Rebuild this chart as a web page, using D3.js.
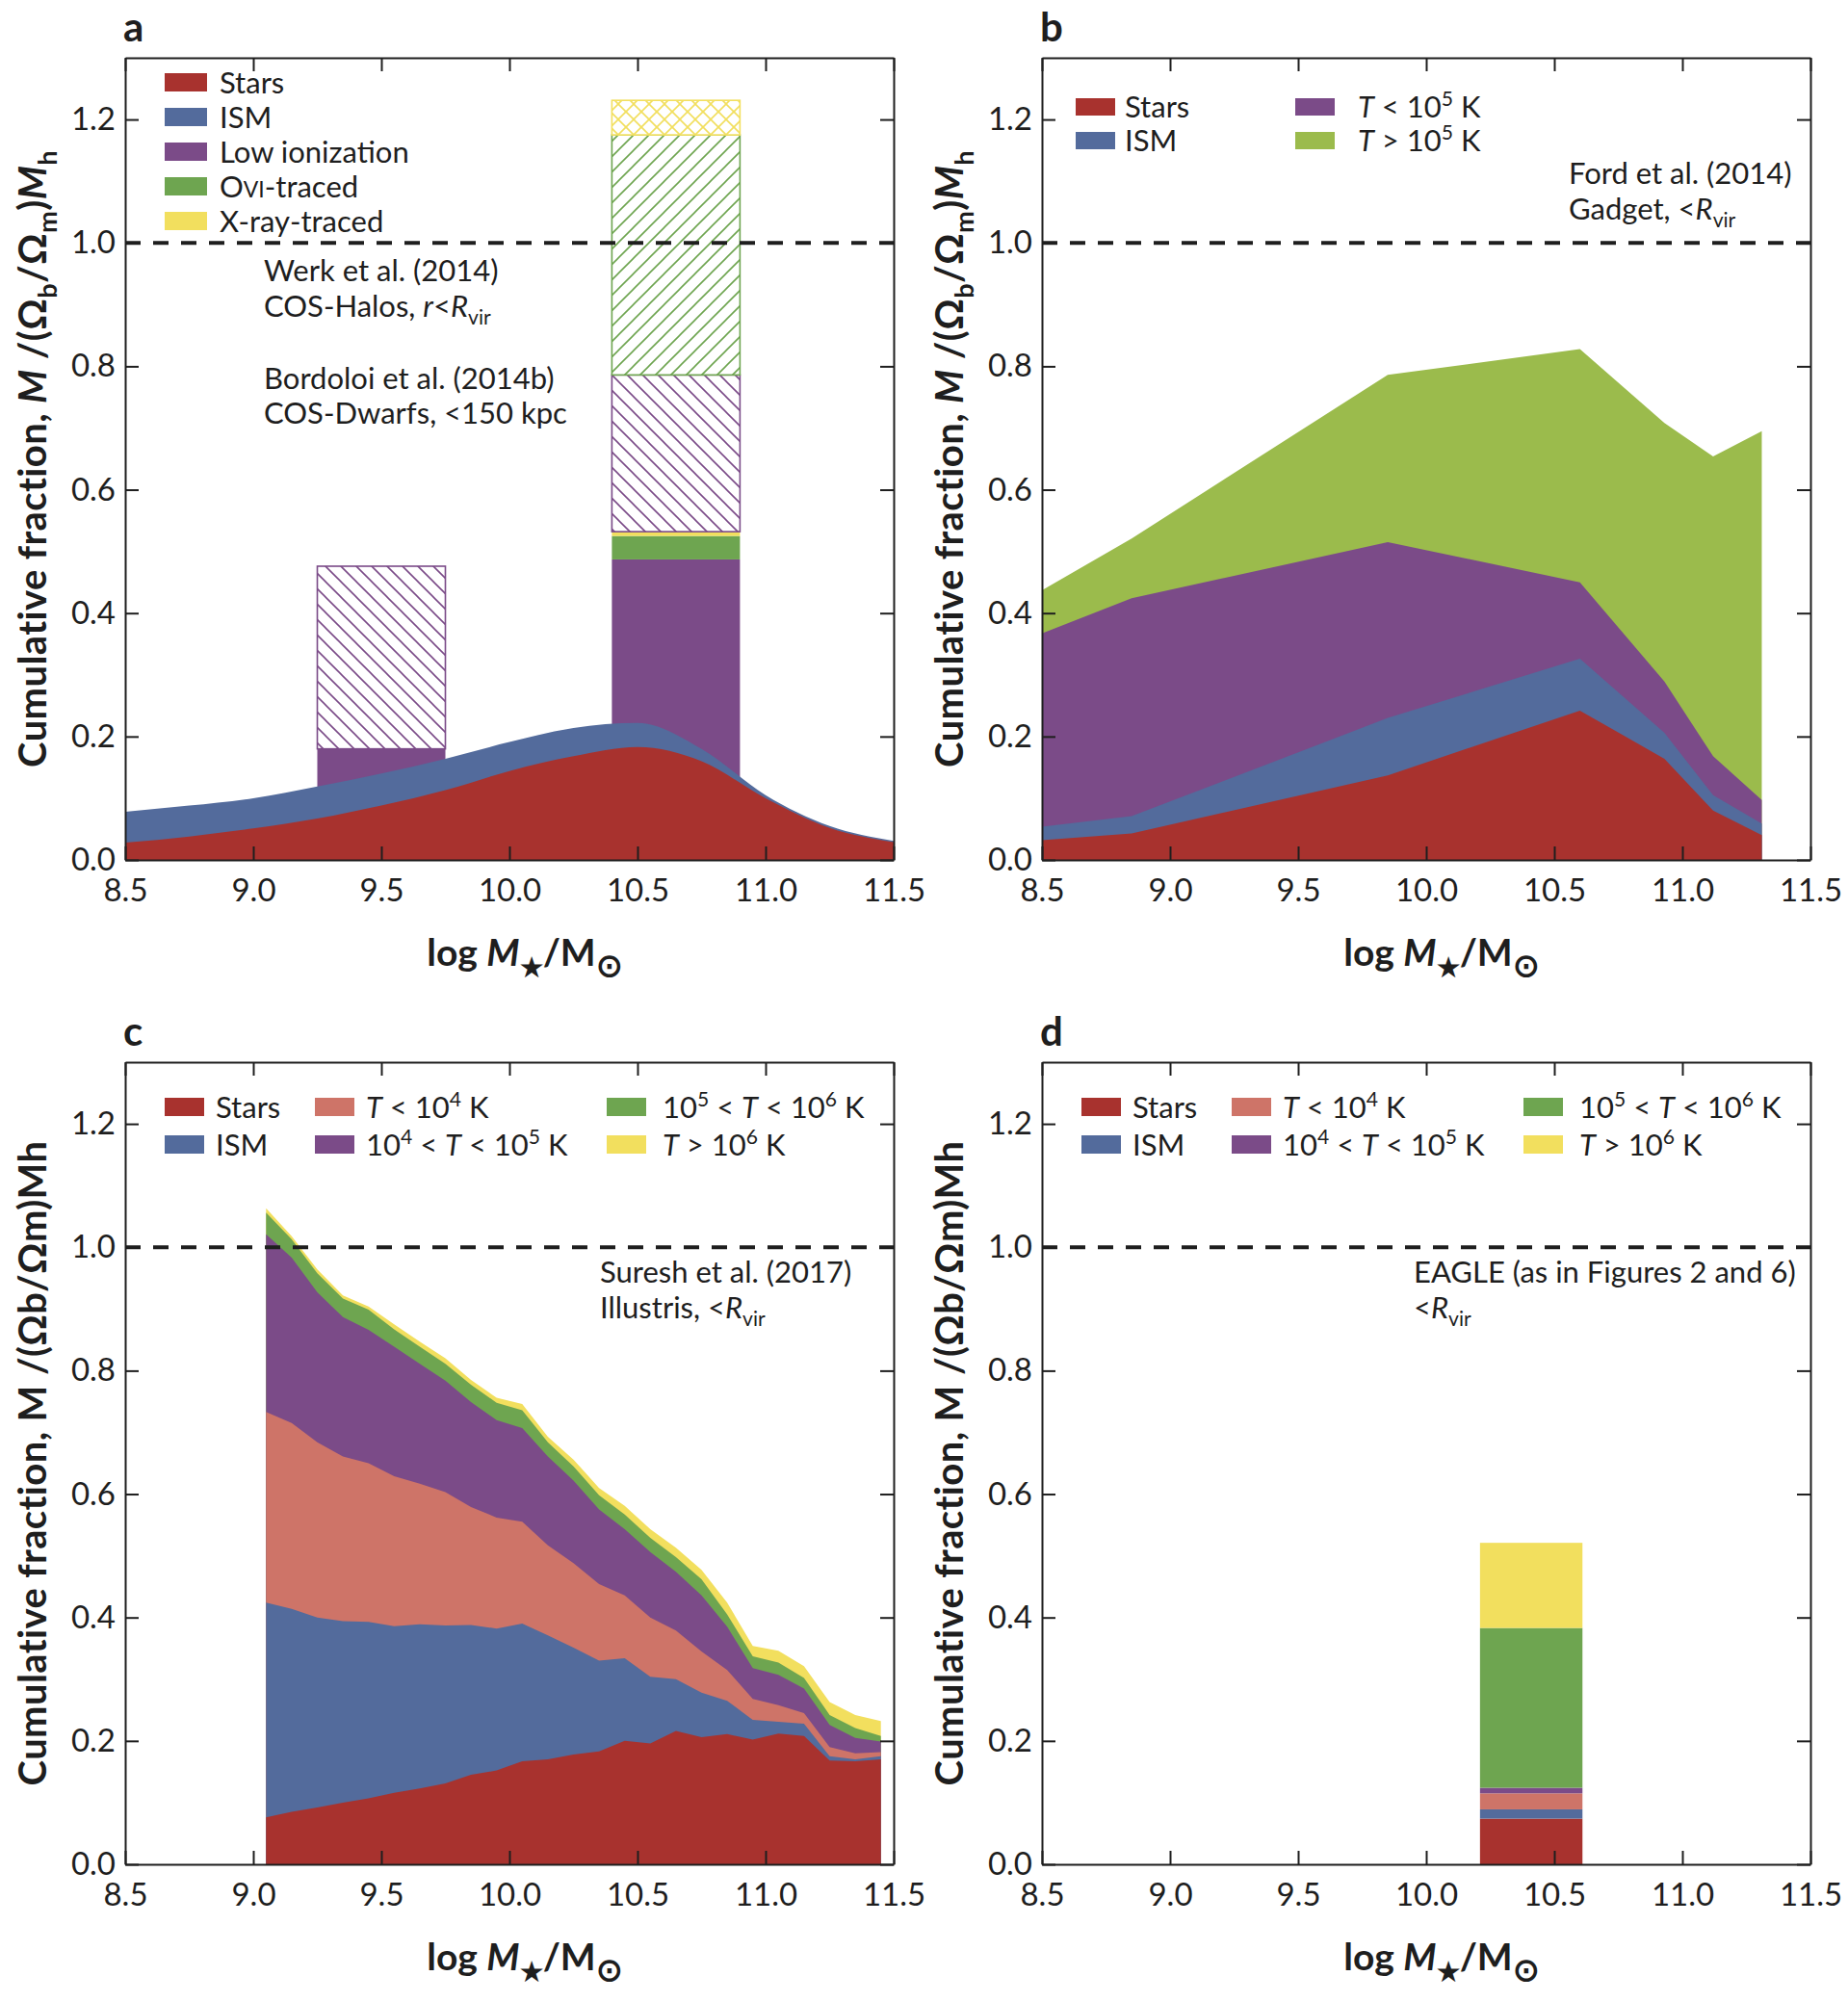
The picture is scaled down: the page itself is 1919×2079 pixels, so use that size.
<!DOCTYPE html>
<html>
<head>
<meta charset="utf-8">
<script src="https://cdn.jsdelivr.net/npm/d3@7"></script>
<style>
  body { margin: 0; background: #fff; }
  svg { display: block; }
</style>
</head>
<body>
<div id="chart"></div>
<script>
// ---------- data ----------
const massTicks = [8.5, 9.0, 9.5, 10.0, 10.5, 11.0, 11.5];
const fracTicks = [0, 0.2, 0.4, 0.6, 0.8, 1.0, 1.2];

// a: Werk et al. 2014 / Bordoloi et al. 2014b
const aMass = [8.5, 8.75, 9.0, 9.25, 9.5, 9.75, 10.0, 10.25, 10.5, 10.75, 11.0, 11.25, 11.5];
const aStars = [0.028, 0.038, 0.051, 0.067, 0.088, 0.113, 0.144, 0.168, 0.183, 0.160, 0.100, 0.052, 0.029];
const aISM = [0.078, 0.088, 0.100, 0.119, 0.140, 0.164, 0.191, 0.214, 0.222, 0.180, 0.105, 0.055, 0.031];
const dwarfBin = [9.25, 9.75];
const dwarfTops = [0.18, 0.476];
const dwarfKind = ['low', 'low'];
const dwarfHatched = [false, true];
const haloBin = [10.4, 10.9];
const haloTops = [0.487, 0.525, 0.532, 0.786, 1.175, 1.231];
const haloKind = ['low', 'ovi', 'xray', 'low', 'ovi', 'xray'];
const haloHatched = [false, false, false, true, true, true];

// b: Ford et al. 2014 (cumulative tops)
const bMass = [8.5, 8.85, 9.85, 10.6, 10.93, 11.12, 11.31];
const bStars = [0.032, 0.043, 0.137, 0.242, 0.164, 0.080, 0.040];
const bISM = [0.054, 0.071, 0.230, 0.326, 0.206, 0.105, 0.059];
const bCool = [0.367, 0.424, 0.515, 0.450, 0.289, 0.168, 0.097];
const bHot = [0.437, 0.521, 0.786, 0.828, 0.708, 0.654, 0.695];

// c: Suresh et al. 2017 (cumulative tops)
const cMass = [9.05, 9.15, 9.25, 9.35, 9.45, 9.55, 9.65, 9.75, 9.85, 9.95, 10.05, 10.15, 10.25,
  10.35, 10.45, 10.55, 10.65, 10.75, 10.85, 10.95, 11.05, 11.15, 11.25, 11.35, 11.45];
const cStars = [0.076, 0.085, 0.092, 0.100, 0.107, 0.116, 0.123, 0.131, 0.145, 0.152, 0.167, 0.170, 0.178,
  0.183, 0.200, 0.196, 0.216, 0.206, 0.211, 0.202, 0.212, 0.208, 0.168, 0.167, 0.170];
const cISM = [0.424, 0.414, 0.400, 0.394, 0.393, 0.386, 0.389, 0.387, 0.388, 0.382, 0.390, 0.371, 0.351,
  0.330, 0.334, 0.304, 0.300, 0.278, 0.265, 0.234, 0.231, 0.228, 0.175, 0.170, 0.175];
const cT4 = [0.733, 0.715, 0.684, 0.661, 0.650, 0.629, 0.617, 0.603, 0.579, 0.562, 0.555, 0.517, 0.488,
  0.454, 0.436, 0.400, 0.379, 0.345, 0.315, 0.268, 0.258, 0.245, 0.190, 0.180, 0.182];
const cT5 = [1.021, 0.983, 0.927, 0.887, 0.866, 0.839, 0.811, 0.784, 0.749, 0.720, 0.707, 0.661, 0.622,
  0.575, 0.543, 0.506, 0.474, 0.436, 0.385, 0.318, 0.307, 0.285, 0.226, 0.205, 0.199];
const cT6 = [1.056, 1.013, 0.958, 0.917, 0.899, 0.867, 0.839, 0.811, 0.777, 0.748, 0.736, 0.684, 0.645,
  0.598, 0.567, 0.529, 0.498, 0.462, 0.405, 0.337, 0.327, 0.302, 0.242, 0.221, 0.208];
const cHot = [1.063, 1.018, 0.964, 0.922, 0.904, 0.875, 0.847, 0.820, 0.785, 0.756, 0.746, 0.693, 0.656,
  0.610, 0.581, 0.543, 0.513, 0.477, 0.424, 0.354, 0.346, 0.321, 0.263, 0.242, 0.232];

// d: EAGLE single bin (cumulative tops: stars, ISM, T<1e4, 1e4-1e5, 1e5-1e6, >1e6)
const dBin = [10.21, 10.61];
const dTops = [0.074, 0.089, 0.115, 0.124, 0.383, 0.521];

// ---------- look ----------
const col = {
  stars: '#a8322e', ism: '#536b9c', low: '#7b4b88', ovi: '#6ea550', xray: '#f2df5e',
  t4: '#ce7468', hotB: '#9bbb4c', ink: '#1e1e1e'
};
const FONT = 'Lato, "Open Sans", sans-serif';
const W = 798, H = 833;

const svg = d3.select('#chart').append('svg')
  .attr('width', 1919).attr('height', 2079)
  .attr('font-family', FONT).attr('fill', col.ink);

const x = d3.scaleLinear().domain([8.5, 11.5]).range([0, W]);
const y = d3.scaleLinear().domain([0, 1.3]).range([H, 0]);

// hatch patterns
const defs = svg.append('defs');
function hatch(id, color, dirs) {
  const p = defs.append('pattern').attr('id', id)
    .attr('patternUnits', 'userSpaceOnUse').attr('width', 16).attr('height', 16);
  p.append('rect').attr('width', 16).attr('height', 16).attr('fill', '#fff');
  if (dirs.includes('\\'))
    p.append('path').attr('d', 'M-4,-4L20,20M-4,12L4,20M12,-4L20,4')
      .attr('stroke', color).attr('stroke-width', 1.6);
  if (dirs.includes('/'))
    p.append('path').attr('d', 'M-4,20L20,-4M-4,4L4,-4M12,20L20,12')
      .attr('stroke', color).attr('stroke-width', 1.6);
}
hatch('h-low', col.low, '\\');
hatch('h-ovi', col.ovi, '/');
hatch('h-xray', col.xray, '/\\');

// text with italics / sub / superscripts
function rich(sel, parts, fs) {
  let shift = 0;
  parts.forEach(p => {
    const target = p.sup ? -0.38 * fs : p.sub ? 0.27 * fs : 0;
    const t = sel.append('tspan').text(p.t).attr('dy', target - shift);
    shift = target;
    if (p.sup || p.sub) t.attr('font-size', (p.big ? 0.85 : 0.68) * fs);
    if (p.sc) t.attr('font-size', 0.74 * fs);
    if (p.i) t.attr('font-style', 'italic');
  });
}

function panel(left, top) {
  return svg.append('g').attr('transform', `translate(${left},${top})`);
}

// stacked bands given cumulative tops; drawn largest first from 0 to avoid seams
function bands(g, mass, tops, colors, curve) {
  const area = d3.area()
    .x((d, i) => x(mass[i]))
    .y0(y(0))
    .y1(d => y(d))
    .curve(curve || d3.curveLinear);
  for (let k = tops.length - 1; k >= 0; k--) {
    g.append('path').datum(tops[k]).attr('d', area).attr('fill', colors[k]);
  }
}

function legend(g, items, cols, rows, sw, sh, fs) {
  items.forEach((it, k) => {
    const c = Math.floor(k / rows.length), r = k % rows.length;
    g.append('rect').attr('x', cols[c].sx).attr('y', rows[r])
      .attr('width', sw).attr('height', sh).attr('fill', it.color);
    const t = g.append('text').attr('x', cols[c].tx).attr('y', rows[r] + sh / 2 + 0.36 * fs)
      .attr('font-size', fs);
    rich(t, it.label, fs);
  });
}

function note(g, tx, lines, fs) {
  lines.forEach(l => {
    const t = g.append('text').attr('x', tx).attr('y', l.y).attr('font-size', fs);
    rich(t, l.parts, fs);
  });
}

function frame(g, letter, ytitle) {
  // reference line
  g.append('line').attr('x1', x(8.5)).attr('x2', x(11.5)).attr('y1', y(1)).attr('y2', y(1))
    .attr('stroke', col.ink).attr('stroke-width', 4).attr('stroke-dasharray', '16,13');

  const style = a => {
    a.attr('font-family', FONT).attr('font-size', 33);
    a.selectAll('line').attr('stroke', col.ink).attr('stroke-width', 2);
    a.selectAll('path').attr('stroke', col.ink).attr('stroke-width', 2);
    a.selectAll('text').attr('fill', col.ink);
  };
  g.append('g').attr('transform', `translate(0,${H})`)
    .call(d3.axisBottom(x).tickValues(massTicks).tickSize(-14).tickSizeOuter(0)
      .tickPadding(20).tickFormat(d3.format('.1f'))).call(style);
  g.append('g')
    .call(d3.axisTop(x).tickValues(massTicks).tickSize(-14).tickSizeOuter(0).tickFormat('')).call(style);
  g.append('g')
    .call(d3.axisLeft(y).tickValues(fracTicks).tickSize(-14).tickSizeOuter(0)
      .tickPadding(10).tickFormat(d3.format('.1f'))).call(style);
  g.append('g').attr('transform', `translate(${W},0)`)
    .call(d3.axisRight(y).tickValues(fracTicks).tickSize(-14).tickSizeOuter(0).tickFormat('')).call(style);

  // axis titles
  const xt = g.append('text').attr('x', W / 2 + 16).attr('y', H + 110)
    .attr('text-anchor', 'middle').attr('font-size', 39).attr('font-weight', 700);
  rich(xt, [{ t: 'log ' }, { t: 'M', i: true }, { t: '★', sub: true }, { t: '/M' }, { t: '⊙', sub: true, big: true }], 39);

  const yt = g.append('text').attr('transform', `translate(-82,${H / 2}) rotate(-90)`)
    .attr('text-anchor', 'middle').attr('font-size', 40).attr('font-weight', 700)
    .attr('letter-spacing', 0.4);
  rich(yt, ytitle, 40);

  g.append('text').attr('x', -2).attr('y', -17).attr('font-size', 42).attr('font-weight', 700)
    .text(letter);
}

const titleSub = [{ t: 'Cumulative fraction, ' }, { t: 'M', i: true }, { t: ' /(Ω' }, { t: 'b', sub: true },
  { t: '/Ω' }, { t: 'm', sub: true }, { t: ')' }, { t: 'M', i: true }, { t: 'h', sub: true }];
const titlePlain = [{ t: 'Cumulative fraction, M /(Ωb/Ωm)Mh' }];

const FS = 31;
const rvir = [{ t: '<' }, { t: 'R', i: true }, { t: 'vir', sub: true }];

// ---------- panel a ----------
{
  const g = panel(130, 60);
  const fillFor = (kind, hatched) => hatched ? `url(#h-${kind})` : col[kind];
  const bar = (bin, tops, kinds, hatched) => {
    tops.forEach((t, k) => {
      const lo = k ? tops[k - 1] : 0;
      g.append('rect').attr('x', x(bin[0])).attr('width', x(bin[1]) - x(bin[0]))
        .attr('y', y(t)).attr('height', y(lo) - y(t))
        .attr('fill', fillFor(kinds[k], hatched[k]))
        .attr('stroke', hatched[k] ? col[kinds[k]] : 'none').attr('stroke-width', 1.6);
    });
  };
  bar(dwarfBin, dwarfTops, dwarfKind, dwarfHatched);
  bar(haloBin, haloTops, haloKind, haloHatched);
  bands(g, aMass, [aStars, aISM], [col.stars, col.ism], d3.curveMonotoneX);

  legend(g, [
    { color: col.stars, label: [{ t: 'Stars' }] },
    { color: col.ism, label: [{ t: 'ISM' }] },
    { color: col.low, label: [{ t: 'Low ionization' }] },
    { color: col.ovi, label: [{ t: 'O' }, { t: 'VI', sc: true }, { t: '-traced' }] },
    { color: col.xray, label: [{ t: 'X-ray-traced' }] }
  ], [{ sx: 41, tx: 98 }], [16, 52, 88, 124, 160], 44, 19, FS);

  note(g, 144, [
    { y: 232, parts: [{ t: 'Werk et al. (2014)' }] },
    { y: 269, parts: [{ t: 'COS-Halos, ' }, { t: 'r', i: true }].concat(rvir) },
    { y: 344, parts: [{ t: 'Bordoloi et al. (2014b)' }] },
    { y: 380, parts: [{ t: 'COS-Dwarfs, <150 kpc' }] }
  ], FS);
  frame(g, 'a', titleSub);
}

// ---------- panel b ----------
{
  const g = panel(1082, 60);
  bands(g, bMass, [bStars, bISM, bCool, bHot], [col.stars, col.ism, col.low, col.hotB]);
  legend(g, [
    { color: col.stars, label: [{ t: 'Stars' }] },
    { color: col.ism, label: [{ t: 'ISM' }] },
    { color: col.low, label: [{ t: 'T', i: true }, { t: ' < 10' }, { t: '5', sup: true }, { t: ' K' }] },
    { color: col.hotB, label: [{ t: 'T', i: true }, { t: ' > 10' }, { t: '5', sup: true }, { t: ' K' }] }
  ], [{ sx: 35, tx: 86 }, { sx: 263, tx: 328 }], [42, 77], 41, 18, FS);
  note(g, 547, [
    { y: 131, parts: [{ t: 'Ford et al. (2014)' }] },
    { y: 168, parts: [{ t: 'Gadget, ' }].concat(rvir) }
  ], FS);
  frame(g, 'b', titleSub);
}

const tempLegend = [
  { color: col.stars, label: [{ t: 'Stars' }] },
  { color: col.ism, label: [{ t: 'ISM' }] },
  { color: col.t4, label: [{ t: 'T', i: true }, { t: ' < 10' }, { t: '4', sup: true }, { t: ' K' }] },
  { color: col.low, label: [{ t: '10' }, { t: '4', sup: true }, { t: ' < ' }, { t: 'T', i: true }, { t: ' < 10' }, { t: '5', sup: true }, { t: ' K' }] },
  { color: col.ovi, label: [{ t: '10' }, { t: '5', sup: true }, { t: ' < ' }, { t: 'T', i: true }, { t: ' < 10' }, { t: '6', sup: true }, { t: ' K' }] },
  { color: col.xray, label: [{ t: 'T', i: true }, { t: ' > 10' }, { t: '6', sup: true }, { t: ' K' }] }
];
const tempColors = [col.stars, col.ism, col.t4, col.low, col.ovi, col.xray];
const tempCols = [{ sx: 41, tx: 94 }, { sx: 197, tx: 250 }, { sx: 500, tx: 558 }];

// ---------- panel c ----------
{
  const g = panel(130, 1103);
  bands(g, cMass, [cStars, cISM, cT4, cT5, cT6, cHot], tempColors);
  legend(g, tempLegend, tempCols, [37, 76], 41, 19, FS);
  note(g, 493, [
    { y: 229, parts: [{ t: 'Suresh et al. (2017)' }] },
    { y: 266, parts: [{ t: 'Illustris, ' }].concat(rvir) }
  ], FS);
  frame(g, 'c', titlePlain);
}

// ---------- panel d ----------
{
  const g = panel(1082, 1103);
  dTops.forEach((t, k) => {
    const lo = k ? dTops[k - 1] : 0;
    g.append('rect').attr('x', x(dBin[0])).attr('width', x(dBin[1]) - x(dBin[0]))
      .attr('y', y(t)).attr('height', y(lo) - y(t)).attr('fill', tempColors[k]);
  });
  legend(g, tempLegend, tempCols, [37, 76], 41, 19, FS);
  note(g, 386, [
    { y: 229, parts: [{ t: 'EAGLE (as in Figures 2 and 6)' }] },
    { y: 266, parts: rvir }
  ], FS);
  frame(g, 'd', titlePlain);
}
</script>
</body>
</html>
